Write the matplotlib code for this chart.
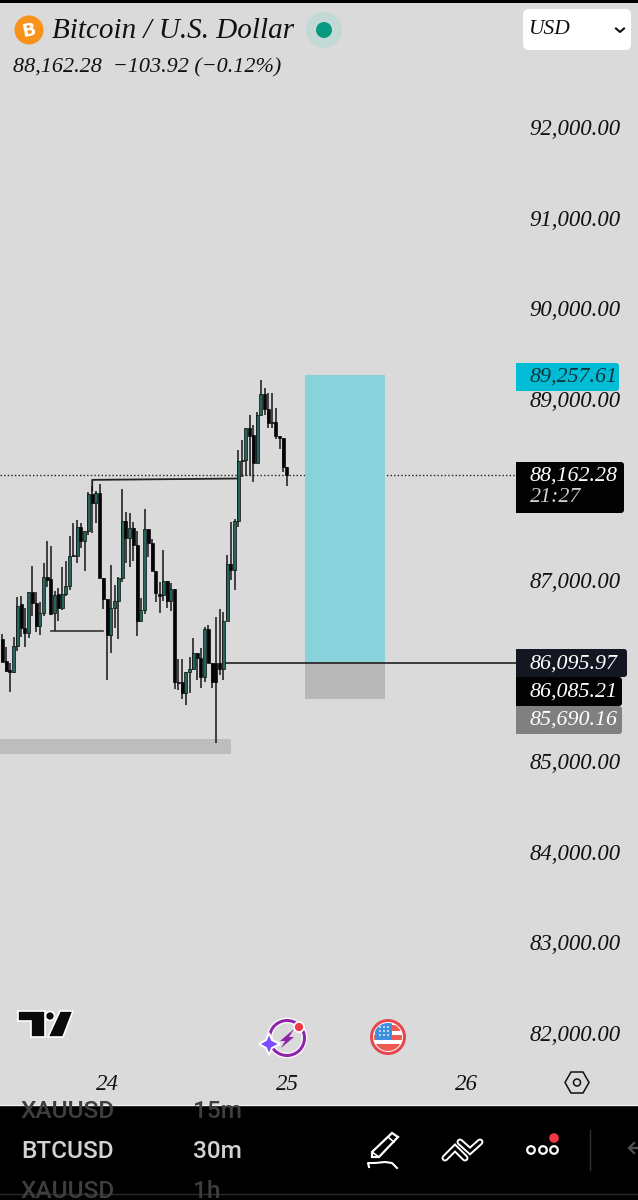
import matplotlib
matplotlib.use("Agg")
import matplotlib.pyplot as plt
from matplotlib.patches import Circle, FancyBboxPatch, Polygon, Rectangle

# Candles (30m bars, left to right)
opens = [86345, 86106, 86003, 85988, 86275, 86731, 86466, 86411, 86871, 86742, 86492,
         86632, 87029, 87007, 86632, 86842, 86694, 86842, 86937, 87268, 87268, 87581,
         87434, 87541, 87949, 87853, 87964, 87018, 86786, 86393, 86687, 86768, 87018,
         87655, 87467, 87570, 87386, 86547, 86669, 87563, 87405, 87103, 86845, 86834,
         86992, 86772, 86897, 85878, 85878, 85749, 85981, 86014, 86190, 86135, 85933,
         86455, 86087, 86080, 86087, 86014, 86547, 87176, 87110, 87655, 88317, 88324,
         88674, 88600, 88288, 88821, 89049, 88884, 88729, 88740, 88589, 88571, 88243]
closes = [86098, 85995, 85988, 86275, 86717, 86466, 86411, 86871, 86742, 86492, 86632,
          87029, 87000, 86621, 86834, 86694, 86842, 86937, 87268, 87279, 87581, 87434,
          87541, 87949, 87853, 87964, 87018, 86786, 86393, 86687, 86768, 87018, 87655,
          87467, 87570, 87386, 86547, 86669, 87563, 87405, 87103, 86853, 86823, 86992,
          86772, 86897, 85878, 85859, 85749, 85981, 86014, 86190, 86135, 85933, 86455,
          86087, 85878, 85878, 86014, 86547, 87176, 87110, 87655, 88317, 88324, 88674,
          88589, 88288, 88821, 89049, 88884, 88729, 88740, 88589, 88571, 88243, 88162]
highs = [86400, 86257, 86088, 86367, 86809, 86827, 86694, 86871, 87151, 86871, 86753,
         87184, 87434, 87379, 86878, 86908, 87140, 87206, 87482, 87633, 87662, 87625,
         87541, 87971, 88037, 87986, 88056, 87018, 86786, 87165, 86945, 87037, 88001,
         87747, 87736, 87644, 87544, 86798, 87780, 87563, 87452, 87103, 86981, 87331,
         86992, 86963, 86897, 86124, 86124, 85981, 86146, 86363, 86190, 86246, 86485,
         86503, 86087, 86588, 86680, 86650, 87276, 87644, 87669, 88435, 88545, 88674,
         88821, 88711, 88858, 89207, 89123, 89067, 89060, 88902, 88589, 88571, 88243]
lows = [86098, 85988, 85767, 85977, 86216, 86374, 86257, 86356, 86603, 86430, 86393,
        86603, 86919, 86614, 86441, 86551, 86669, 86827, 86890, 87257, 87191, 87349,
        87103, 87497, 87515, 87625, 87018, 86676, 85896, 86198, 86474, 86345, 86974,
        87191, 87140, 87213, 86385, 86547, 86625, 87257, 87103, 86761, 86632, 86772,
        86687, 86661, 85793, 85786, 85683, 85620, 85756, 86007, 85896, 85812, 85878,
        86080, 85812, 85204, 85951, 85896, 86547, 87000, 86890, 87581, 88140, 88148,
        88148, 88085, 88288, 88821, 88821, 88681, 88674, 88552, 88442, 88195, 88037]

# 86,000 and 88,000 sit behind the price tags in the picture, so they are left out
price_ticks = [82000, 83000, 84000, 85000, 87000, 89000, 90000, 91000, 92000]
day_ticks = [28, 76, 124]
day_labels = ["24", "25", "26"]

last_price = 88162.28
target_price = 89257.61
entry_price = 86095.97
line_price = 86085.21
stop_price = 85690.16
zone_top, zone_bottom = 85245, 85075

BG = "#dadada"
BULL = "#23665d"
SERIF = "Liberation Serif"

fig = plt.figure(figsize=(6.38, 12), dpi=100, facecolor=BG)

# price chart fills the whole picture: 90.6 px per 1000, 3.746 px per bar
ax = fig.add_axes([0, 0, 1, 1], facecolor=BG)
ax.set_xlim(-0.614, 169.7)
ax.set_ylim(80156, 93402)
for s in ax.spines.values():
    s.set_visible(False)

ax.axhline(last_price, xmax=516 / 638, color="#222222", lw=1, ls=(0, (1, 1.6)), zorder=1)
ax.add_patch(Rectangle((-1, zone_bottom), 62.05, zone_top - zone_bottom, color="#bdbdbd", lw=0, zorder=1))

# position tool
ax.add_patch(Rectangle((80.8, entry_price), 21.4, target_price - entry_price, color="#87d2db", lw=0, zorder=1))
ax.add_patch(Rectangle((80.8, stop_price), 21.4, entry_price - stop_price, color="#b8b8b8", lw=0, zorder=1))

# trend lines
ax.plot([59, 137], [line_price, line_price], color="#111111", lw=1.1, zorder=2)
ax.plot([24, 24, 63], [87988, 88105, 88120], color="#222222", lw=1.3, zorder=2)
ax.plot([13, 27], [86441, 86441], color="#333333", lw=1.2, zorder=2)

idx = list(range(len(opens)))
colors = [BULL if c >= o else "#050505" for o, c in zip(opens, closes)]
bottoms = [min(o, c) for o, c in zip(opens, closes)]
heights = [max(abs(c - o), 12) for o, c in zip(opens, closes)]
ax.vlines(idx, lows, highs, color="#161616", lw=1.1, zorder=3)
ax.bar(idx, heights, bottom=bottoms, width=0.8, color=colors, edgecolor="#0a0a0a", lw=0.5, zorder=4)

ax.yaxis.tick_right()
ax.set_yticks(price_ticks)
ax.set_yticklabels([f"{p:,.2f}" for p in price_ticks], family=SERIF, style="italic",
                   fontsize=16.4, color="#111111", ha="right")
ax.tick_params(axis="y", length=0, pad=-12.5)
ax.set_xticks(day_ticks)
ax.set_xticklabels(day_labels, family=SERIF, style="italic", fontsize=16.5, color="#111111")
ax.tick_params(axis="x", length=0, pad=-91)

# screen furniture, in pixels
ui = fig.add_axes([0, 0, 1, 1])
ui.set_xlim(0, 638)
ui.set_ylim(1200, 0)
ui.axis("off")
ui.patch.set_alpha(0)

ui.add_patch(Rectangle((0, 0), 638, 2.5, color="black", lw=0))

# header
ui.add_patch(Circle((29, 30), 14.5, color="#f7931a", lw=0))
ui.text(29, 30.5, "B", color="white", fontsize=13, fontweight="bold", ha="center", va="center", rotation=12)
ui.text(52, 31.5, "Bitcoin / U.S. Dollar", family=SERIF, style="italic", fontsize=21, color="#111111", va="center")
ui.add_patch(Circle((324, 30), 18, color="#c2d9d5", lw=0))
ui.add_patch(Circle((324, 30), 8, color="#089981", lw=0))
ui.text(13, 68, "88,162.28  \u2212103.92 (\u22120.12%)", family=SERIF, style="italic", fontsize=15.9,
        color="#111111", va="center")
ui.add_patch(FancyBboxPatch((526, 12), 102, 35, boxstyle="round,pad=3,rounding_size=6", color="white", lw=0))
ui.text(528, 30, "USD", family=SERIF, style="italic", fontsize=15.5, color="#111111", va="center")
ui.plot([616, 620, 624], [28.5, 32, 28.5], color="#111111", lw=1.5)


def price_label(x0, y0, x1, y1, fill, lines):
    ui.add_patch(Rectangle((x0, y0), 6, y1 - y0, color=fill, lw=0))
    ui.add_patch(FancyBboxPatch((x0 + 3, y0 + 3), x1 - x0 - 6, y1 - y0 - 6,
                                boxstyle="round,pad=3,rounding_size=3", color=fill, lw=0))
    for text, y, col in lines:
        ui.text(530, y, text, family=SERIF, style="italic", fontsize=15.8, color=col, va="center")


price_label(516, 363, 619, 391, "#00bcd4", [("89,257.61", 377, "#10343c")])
price_label(516, 462, 624, 513, "#020202", [("88,162.28", 476, "white"), ("21:27", 498, "#cfcfcf")])
price_label(516, 649, 627, 677, "#131722", [("86,095.97", 664, "white")])
price_label(516, 677, 622, 706, "#020202", [("86,085.21", 692, "white")])
price_label(516, 706, 622, 734, "#808080", [("85,690.16", 720, "white")])

# tradingview logo
logo = dict(facecolor="#0a0a0a", edgecolor="white", lw=1.2)
ui.add_patch(Polygon([(18, 1011), (45, 1011), (45, 1037), (31, 1037), (31, 1021), (18, 1021)], **logo))
ui.add_patch(Polygon([(60, 1011), (73, 1011), (63, 1037), (48, 1037)], **logo))
ui.add_patch(Circle((50, 1016), 4.5, **logo))

# assistant icon
ui.add_patch(Circle((287, 1038), 17.5, facecolor="none", edgecolor="white", lw=4))
ui.add_patch(Circle((287, 1038), 17.5, facecolor="none", edgecolor="#8e24aa", lw=2.2))
ui.add_patch(Polygon([(294, 1029), (280, 1041), (285, 1041), (281, 1048), (294, 1037), (289, 1037)],
                     color="#8e24aa", lw=0))
ui.add_patch(Polygon([(259, 1044), (266, 1040), (269, 1033), (272, 1040), (280, 1044), (272, 1048),
                      (269, 1055), (266, 1048)], facecolor="#7c4dff", edgecolor="white", lw=1.4))
ui.add_patch(Circle((299, 1027), 5, facecolor="#f23645", edgecolor="white", lw=1.2))

# flag icon
ui.add_patch(Circle((388, 1037), 18, color="#e8464f", lw=0))
ui.add_patch(Circle((388, 1037), 15, color="white", lw=0))
flag_clip = Circle((388, 1037), 14, transform=ui.transData)
for y0, h in [(1025, 6), (1035, 5), (1044, 7)]:
    ui.add_patch(Rectangle((374, y0), 28, h, color="#ee5a52", lw=0, clip_path=flag_clip))
ui.add_patch(Rectangle((375, 1023), 17, 17, color="#3f8fe0", lw=0, clip_path=flag_clip))
for cx in [380, 384, 388]:
    for cy in [1027, 1031, 1035]:
        ui.add_patch(Circle((cx, cy), 0.9, color="white", lw=0))

# settings hexagon
ui.add_patch(Polygon([(571, 1072), (583, 1072), (589, 1082.5), (583, 1093), (571, 1093), (565, 1082.5)],
                     facecolor="none", edgecolor="#111111", lw=1.1))
ui.add_patch(Circle((577, 1082.5), 3.5, facecolor="none", edgecolor="#111111", lw=1.1))

# bottom bar
ui.add_patch(Rectangle((0, 1104.5), 638, 95.5, color="black", lw=0))
ui.plot([0, 638], [1105, 1105], color="#f0f0f0", lw=1)
ui.plot([0, 638], [1194, 1194], color="#2a2a2a", lw=1)
list_clip = Rectangle((0, 1106), 638, 88, transform=ui.transData)
for text, tf, y, col in [("XAUUSD", "15m", 1112, "#3e3e3e"), ("BTCUSD", "30m", 1152, "#d2d2d2"),
                         ("XAUUSD", "1h", 1192, "#3e3e3e")]:
    for label, x in [(text, 21), (tf, 193)]:
        t = ui.text(x, y, label, family="Roboto", fontsize=17.6, color=col, va="center",
                    fontweight="medium")
        t.set_clip_path(list_clip)

# pen
ui.add_patch(Polygon([(372, 1152), (392, 1133), (398, 1137), (379, 1157), (372, 1157)],
                     facecolor="none", edgecolor="white", lw=1.6))
ui.plot([372, 379], [1152, 1157], color="white", lw=1.2)
ui.plot([388, 394], [1137, 1142], color="white", lw=1.2)
ui.plot([369, 368, 375, 385, 392, 397], [1167, 1163, 1163, 1162, 1163, 1168], color="white", lw=1.5)

# chart type chevrons
for xs, ys in [([445, 455, 465], [1158, 1148, 1158]), ([460, 470, 480], [1142, 1151, 1142])]:
    ui.plot(xs, ys, color="white", lw=5, solid_capstyle="round", solid_joinstyle="miter")
    ui.plot(xs, ys, color="black", lw=2.2, solid_capstyle="round", solid_joinstyle="miter")

for cx in [531, 543, 554]:
    ui.add_patch(Circle((cx, 1150), 3.8, facecolor="none", edgecolor="white", lw=1.6))
ui.add_patch(Circle((554, 1138), 4.8, color="#f23645", lw=0))
ui.plot([590, 590], [1130, 1170], color="#333333", lw=1)
ui.plot([634, 629, 634], [1143, 1148, 1153], color="#505050", lw=1.6)
ui.plot([629, 638], [1148, 1148], color="#505050", lw=1.6)

fig.savefig("out.png", dpi=100, facecolor=BG)
